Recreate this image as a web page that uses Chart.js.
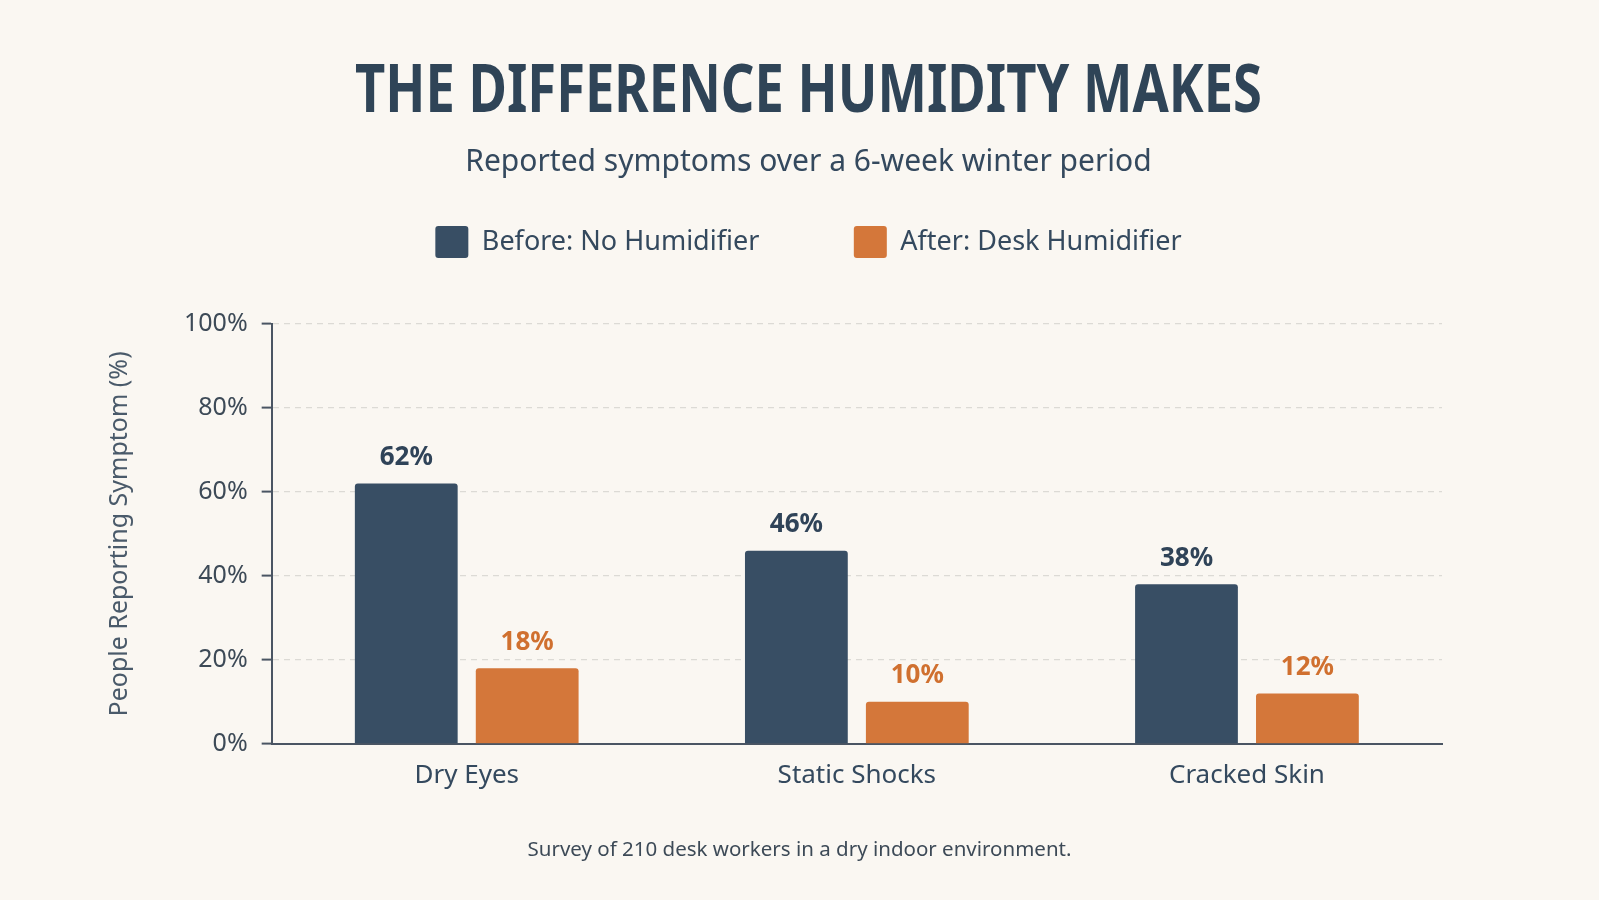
<!DOCTYPE html>
<html><head><meta charset="utf-8">
<script src="https://cdn.jsdelivr.net/npm/chart.js@4/dist/chart.umd.min.js"></script>
<style>html,body{margin:0;padding:0;background:#faf7f2;overflow:hidden}</style>
</head><body>
<canvas id="c" width="1599" height="900"></canvas>
<script>
const categories = ['Dry Eyes', 'Static Shocks', 'Cracked Skin'];
const seriesNames = ['Before: No Humidifier', 'After: Desk Humidifier'];
const beforeValues = [62, 46, 38];
const afterValues = [18, 10, 12];
const yTicks = [0, 20, 40, 60, 80, 100];
const titleText = 'THE DIFFERENCE HUMIDITY MAKES';
const subtitleText = 'Reported symptoms over a 6-week winter period';
const yAxisTitle = 'People Reporting Symptom (%)';
const footnoteText = 'Survey of 210 desk workers in a dry indoor environment.';

const DARK = '#384e64';
const ORANGE = '#d4773a';
const TEXT = '#34495e';
const FONT = "'Noto Sans', 'Open Sans', sans-serif";

const bgPlugin = {
  id: 'bg',
  beforeDraw(chart) {
    const c = chart.ctx;
    c.save(); c.fillStyle = '#faf7f2'; c.fillRect(0, 0, chart.width, chart.height); c.restore();
  }
};

// extra layout boxes: condensed title block, gap under legend, right margin
const boxesPlugin = {
  id: 'extraBoxes',
  beforeInit(chart) {
    const ctx = chart.ctx;
    const titleBox = {
      position: 'top', weight: 3000, fullSize: true, options: {},
      top: 0, left: 0, right: 0, bottom: 0, width: 0, height: 0,
      isHorizontal() { return true; },
      update(maxW) { this.width = maxW; this.height = 144; },
      draw() {
        ctx.save();
        ctx.font = "bold 66px " + FONT;
        ctx.fillStyle = '#2f4457';
        ctx.textAlign = 'center';
        ctx.textBaseline = 'alphabetic';
        const w = ctx.measureText(titleText).width;
        const sx = Math.min(1, 907 / w);
        ctx.translate(this.left + this.width / 2, 112);
        ctx.scale(sx, 1);
        ctx.fillText(titleText, 0, 0);
        ctx.restore();
      }
    };
    const gapBox = {
      position: 'top', weight: 500, fullSize: true, options: {},
      top: 0, left: 0, right: 0, bottom: 0, width: 0, height: 0,
      isHorizontal() { return true; },
      update(maxW) { this.width = maxW; this.height = 56; },
      draw() {}
    };
    const rightBox = {
      position: 'right', weight: 0, fullSize: false, options: {},
      top: 0, left: 0, right: 0, bottom: 0, width: 0, height: 0,
      isHorizontal() { return false; },
      update(maxW, maxH) { this.width = 157; this.height = maxH; },
      draw() {}
    };
    Chart.layouts.addBox(chart, titleBox);
    Chart.layouts.addBox(chart, gapBox);
    Chart.layouts.addBox(chart, rightBox);
  }
};

const labelPlugin = {
  id: 'valueLabels',
  afterDatasetsDraw(chart) {
    const c = chart.ctx;
    c.save();
    c.font = "bold 26px " + FONT;
    c.textAlign = 'center';
    c.textBaseline = 'middle';
    chart.data.datasets.forEach((ds, i) => {
      const meta = chart.getDatasetMeta(i);
      c.fillStyle = ds.labelColor;
      meta.data.forEach((bar, j) => {
        c.fillText(ds.data[j] + '%', bar.x, bar.y - 26);
      });
    });
    c.restore();
  }
};

const footnotePlugin = {
  id: 'footnote',
  afterDraw(chart) {
    const c = chart.ctx;
    c.save();
    c.font = "20.5px " + FONT;
    c.fillStyle = '#3d4a57';
    c.textAlign = 'center';
    c.textBaseline = 'middle';
    c.fillText(footnoteText, chart.width / 2, 850);
    c.restore();
  }
};

new Chart(document.getElementById('c'), {
  type: 'bar',
  data: {
    labels: categories,
    datasets: [
      { label: seriesNames[0], data: beforeValues, backgroundColor: DARK, labelColor: '#2f4358',
        borderRadius: 3, categoryPercentage: 0.62, barPercentage: 0.85 },
      { label: seriesNames[1], data: afterValues, backgroundColor: ORANGE, labelColor: '#d0702f',
        borderRadius: 3, categoryPercentage: 0.62, barPercentage: 0.85 }
    ]
  },
  plugins: [bgPlugin, boxesPlugin, labelPlugin, footnotePlugin],
  options: {
    responsive: false,
    animation: false,
    devicePixelRatio: 1,
    layout: { padding: { left: 18, right: 0, top: 0, bottom: 101 } },
    plugins: {
      title: { display: false },
      subtitle: {
        display: true, text: subtitleText, color: TEXT,
        font: { family: FONT, size: 30 },
        padding: { top: 0, bottom: 22 }
      },
      legend: {
        display: true, position: 'top',
        labels: {
          color: TEXT, font: { family: FONT, size: 27 },
          boxWidth: 33, boxHeight: 32, padding: 24, useBorderRadius: true, borderRadius: 3,
          generateLabels(chart) {
            const items = Chart.defaults.plugins.legend.labels.generateLabels(chart);
            items.forEach(it => { it.lineWidth = 0; it.strokeStyle = 'transparent'; });
            const spacer = { text: '', fillStyle: 'transparent', strokeStyle: 'transparent', lineWidth: 0, hidden: false, datasetIndex: -1 };
            return [items[0], spacer, items[1]];
          }
        },
        onClick() {}
      },
      tooltip: { enabled: false }
    },
    scales: {
      x: {
        grid: { display: false },
        border: { display: true, color: '#4a5563', width: 2 },
        ticks: { color: TEXT, font: { family: FONT, size: 26 }, padding: 8 }
      },
      y: {
        min: yTicks[0], max: yTicks[yTicks.length - 1],
        afterBuildTicks(scale) { scale.ticks = yTicks.map(v => ({ value: v })); },
        title: { display: true, text: yAxisTitle, color: '#4a5a6a', font: { family: FONT, size: 25 }, padding: { top: 87, bottom: 35 } },
        border: { display: true, color: '#4a5563', width: 2, dash: [6, 5] },
        grid: {
          color: ctx => (ctx.tick && ctx.tick.value === 0) ? 'rgba(0,0,0,0)' : '#dcdad5',
          lineWidth: 1.2,
          tickColor: '#4a5563', tickLength: 10, tickBorderDash: [], tickWidth: 2
        },
        ticks: { color: '#3d4a57', font: { family: FONT, size: 25 }, padding: 14, callback: v => v + '%' }
      }
    }
  }
});
</script>
</body></html>
